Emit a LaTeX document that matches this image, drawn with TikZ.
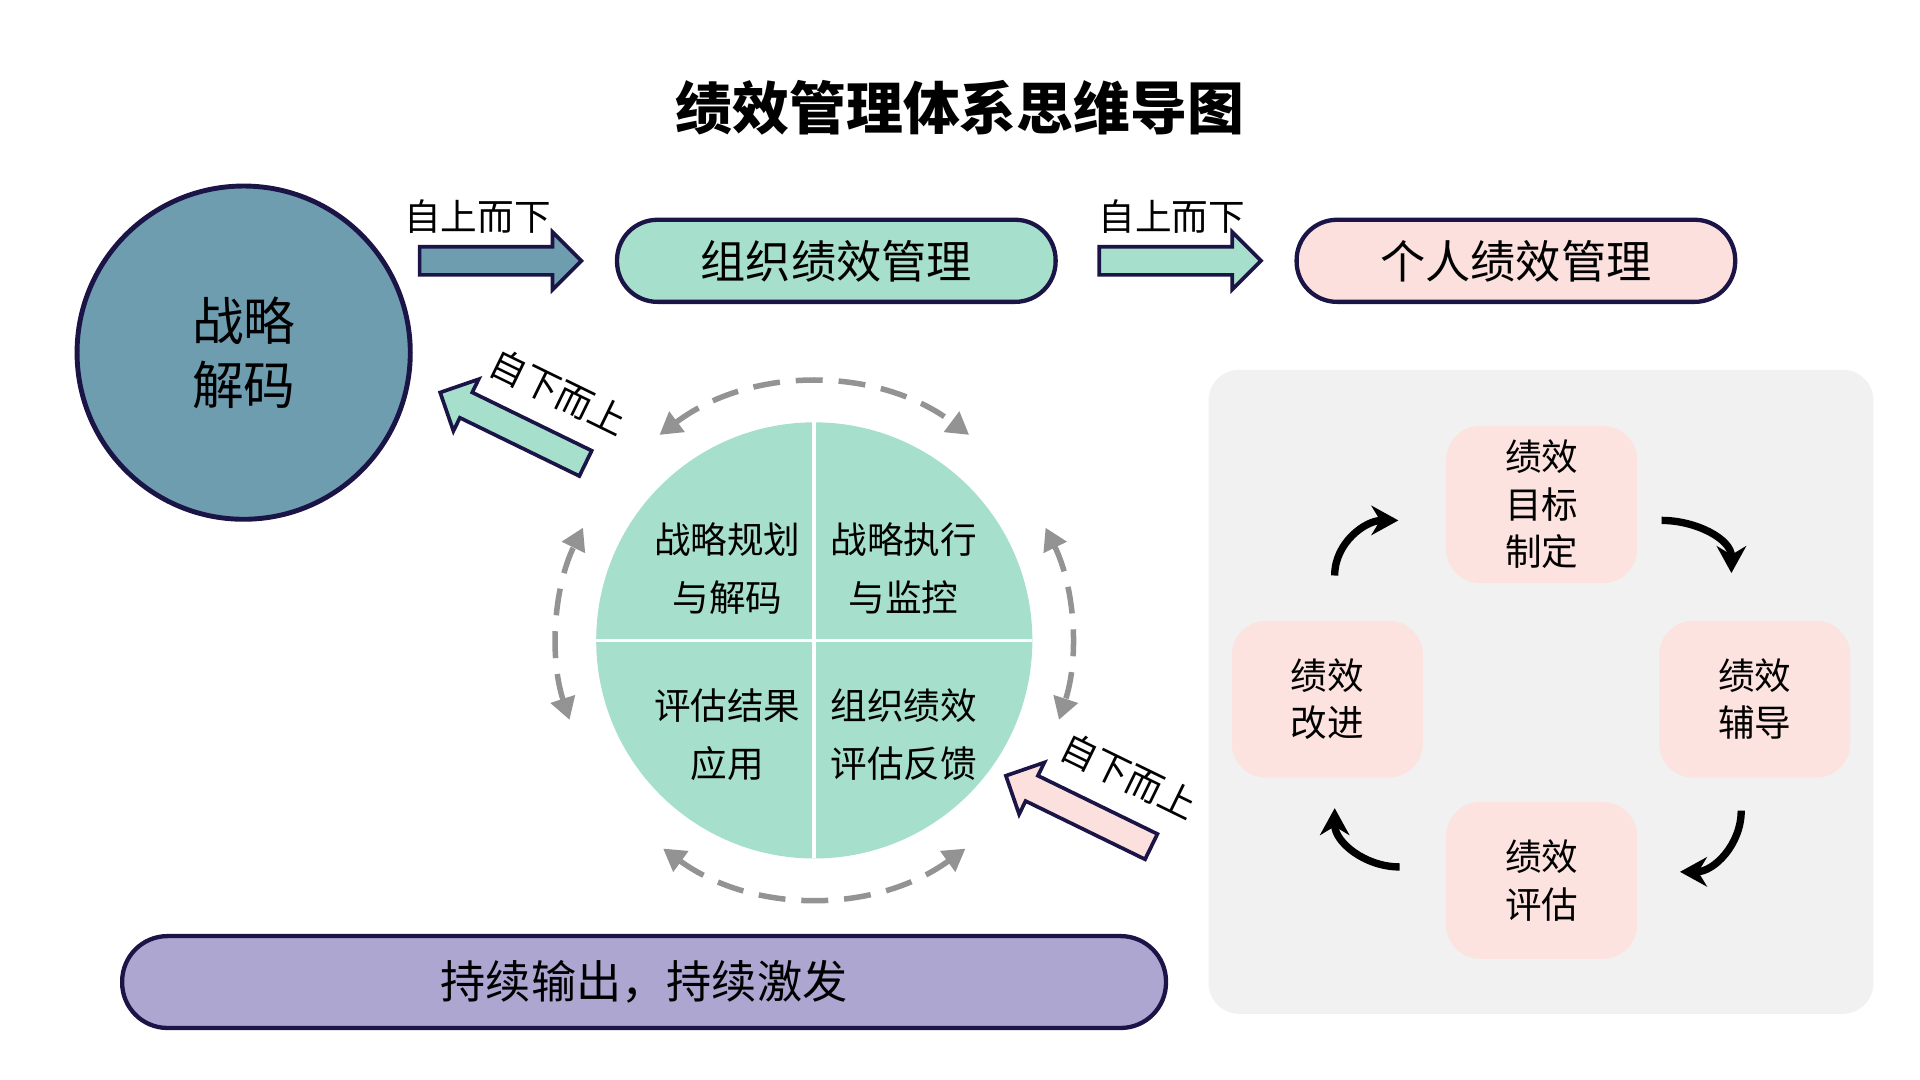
\documentclass[tikz,border=0pt]{standalone}
\usepackage{fontspec}
\newfontfamily\cjk{Noto Sans CJK SC}
\usetikzlibrary{shapes.arrows,arrows.meta}
\definecolor{navy}{HTML}{1B1446}
\definecolor{slate}{HTML}{6E9DB0}
\definecolor{mint}{HTML}{A6DFCB}
\definecolor{pinkf}{HTML}{FBE0DD}
\definecolor{purp}{HTML}{ADA6D1}
\definecolor{panel}{HTML}{F1F1F1}
\definecolor{tile}{HTML}{FCE3DF}
\begin{document}
\begin{tikzpicture}[x=0.01cm,y=-0.01cm,font=\cjk,
  box/.style={draw=navy,line width=0.035cm,rounded corners=0.33cm,minimum width=3.58cm,minimum height=0.67cm,font=\cjk\fontsize{10.5}{12}\selectfont},
  barrow/.style={single arrow,draw=navy,line width=0.03cm,inner xsep=0pt,inner ysep=0.1cm,text width=0pt,minimum height=1.32cm,single arrow head extend=0.12cm,single arrow head indent=0pt},
  lab/.style={font=\cjk\fontsize{8.5}{10}\selectfont},
  tl/.style={fill=tile,rounded corners=0.28cm,minimum width=1.56cm,minimum height=1.28cm,align=center,font=\cjk\fontsize{8.5}{11}\selectfont},
  darc/.style={draw=gray!85,line width=0.045cm,dash pattern=on 0.22cm off 0.13cm,{Triangle[width=0.2cm,length=0.18cm]}-{Triangle[width=0.2cm,length=0.18cm]}},
  carr/.style={line width=0.06cm,-{Stealth[length=0.22cm,width=0.24cm]}},
  q/.style={align=center,font=\cjk\fontsize{8.5}{13.5}\selectfont}]
\useasboundingbox (0,0) rectangle (1568,882);
\node[font=\cjk\bfseries\fontsize{13.2}{15}\selectfont] (title) at (784,88) {绩效管理体系思维导图};
\node[circle,draw=navy,line width=0.04cm,fill=slate,minimum size=2.72cm,align=center,font=\cjk\fontsize{12}{15}\selectfont] (zl) at (199,288) {战略\\解码};
\node[box,fill=mint] (org) at (683,213) {组织绩效管理};
\node[box,fill=pinkf] (ind) at (1238,213) {个人绩效管理};
\node[barrow,fill=slate] (a1) at (403,213) {};
\node[lab] (l1) at (390,177) {自上而下};
\node[barrow,fill=mint] (a2) at (958,213) {};
\node[lab] (l2) at (957,177) {自上而下};
\node[barrow,fill=mint,rotate=154] (a3) at (424,352) {};
\node[lab,rotate=-26] (l3) at (456,320) {自下而上};
\node[barrow,fill=pinkf,rotate=154] (a4) at (886,665) {};
\node[lab,rotate=-26] (l4) at (922,634) {自下而上};
% central circle
\coordinate (c) at (665,523);
\fill[mint] (c) circle (1.78cm);
\draw[white,line width=0.03cm] (665,345) -- (665,701) (487,523) -- (843,523);
\node[q] (q1) at (594,464) {战略规划\\与解码};
\node[q] (q2) at (738,464) {战略执行\\与监控};
\node[q] (q3) at (594,600) {评估结果\\应用};
\node[q] (q4) at (738,600) {组织绩效\\评估反馈};
\draw[darc] ([shift={(127:2.1cm)}]c) arc[start angle=127,end angle=53,radius=2.1cm];
\draw[darc] ([shift={(26:2.1cm)}]c) arc[start angle=26,end angle=-18,radius=2.1cm];
\draw[darc] ([shift={(306:2.1cm)}]c) arc[start angle=306,end angle=234,radius=2.1cm];
\draw[darc] ([shift={(198:2.1cm)}]c) arc[start angle=198,end angle=154,radius=2.1cm];
% bar
\node[draw=navy,line width=0.035cm,fill=purp,rounded corners=0.37cm,minimum width=8.52cm,minimum height=0.75cm,font=\cjk\fontsize{10.5}{12}\selectfont] (bar) at (526,802) {持续输出，持续激发};
% panel
\fill[panel,rounded corners=0.25cm] (987,302) rectangle (1530,828);
\node[tl] (t1) at (1259,412) {绩效\\目标\\制定};
\node[tl] (t2) at (1433,571) {绩效\\辅导};
\node[tl] (t3) at (1259,719) {绩效\\评估};
\node[tl] (t4) at (1084,571) {绩效\\改进};
\draw[carr] (1090,470) to[out=90,in=180] (1142,425);
\draw[carr] (1357,425) to[out=0,in=90] (1414,468);
\draw[carr] (1422,662) to[out=270,in=0] (1372,712);
\draw[carr] (1143,708) to[out=180,in=270] (1090,660);
\end{tikzpicture}
\end{document}
